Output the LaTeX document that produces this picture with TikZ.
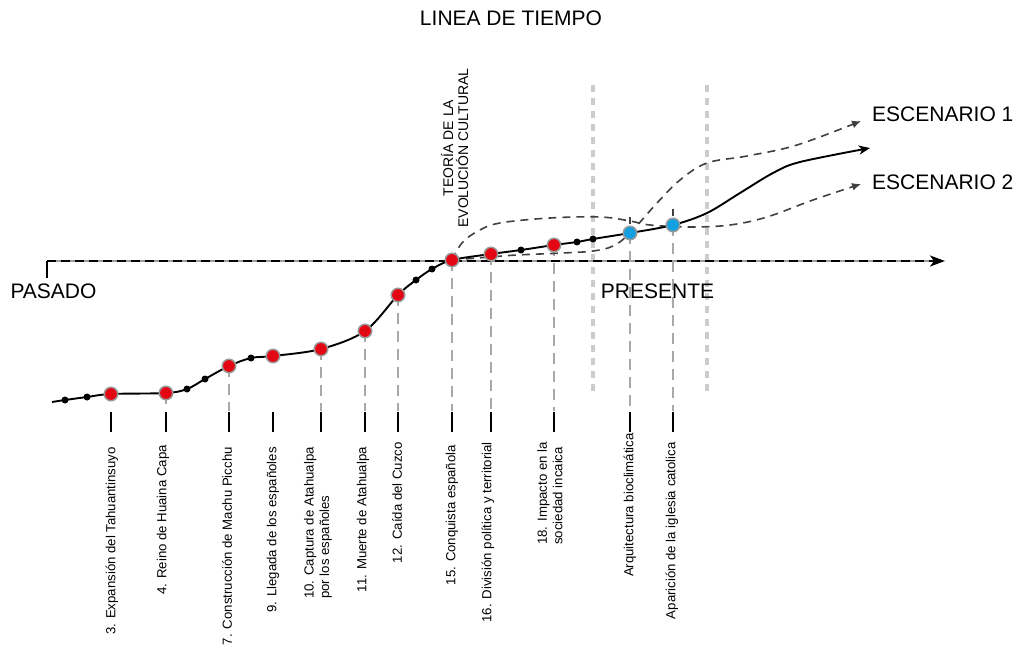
\documentclass[tikz,border=0pt]{standalone}
\usepackage{fontspec}
\setmainfont{Liberation Sans}
\usetikzlibrary{arrows.meta}
\definecolor{dotred}{HTML}{E30613}
\definecolor{dotblue}{HTML}{149FE0}
\definecolor{rimgray}{HTML}{9A9A9A}
\definecolor{darkdash}{HTML}{404040}
\definecolor{vgray}{HTML}{A8A8A8}
\definecolor{pgray}{HTML}{CCCCCC}
\definecolor{axgray}{HTML}{9C9C9C}
\begin{document}
\begin{tikzpicture}[x=1pt,y=-1pt,
  reddot/.style={circle,fill=dotred,draw=rimgray,line width=1.5pt,minimum size=13.5pt,inner sep=0pt},
  bluedot/.style={circle,fill=dotblue,draw=rimgray,line width=1.5pt,minimum size=13.5pt,inner sep=0pt},
  smalldot/.style={circle,fill=black,minimum size=7pt,inner sep=0pt},
  droplink/.style={vgray,line width=1.6pt,dash pattern=on 11pt off 7pt},
  toplink/.style={darkdash,line width=1.6pt,dash pattern=on 7pt off 5pt},
  tickline/.style={black,line width=1.9pt},
  evlabel/.style={rotate=90,anchor=east,font=\fontsize{13.2}{15.5}\selectfont,inner sep=0pt,align=left},
  bigtext/.style={font=\fontsize{21}{24}\selectfont,inner sep=0pt,anchor=base},
  scen/.style={darkdash,line width=1.6pt,dash pattern=on 8pt off 6pt,-{Latex[length=9pt,width=8pt]}},
  presline/.style={pgray,line width=3.2pt,dash pattern=on 7pt off 6pt},
]
\useasboundingbox (0,0) rectangle (1020,655);

% presente band lines
\coordinate (pl1a) at (593,85); \coordinate (pl1b) at (593,393);
\coordinate (pl2a) at (707,85); \coordinate (pl2b) at (707,393);
\draw[presline] (pl1a) -- (pl1b);
\draw[presline] (pl2a) -- (pl2b);

% curve coordinates
\coordinate (c0) at (52,402);
\coordinate (s1) at (65,400);
\coordinate (s2) at (87,397);
\coordinate (r3) at (111,394);
\coordinate (r4) at (166,393);
\coordinate (s3) at (187,389);
\coordinate (s4) at (205,379);
\coordinate (r7) at (229,366);
\coordinate (s5) at (251,358);
\coordinate (r9) at (273,356);
\coordinate (r10) at (321,349);
\coordinate (r11) at (365,331);
\coordinate (r12) at (398,295);
\coordinate (s6) at (416,280);
\coordinate (s7) at (432,269);
\coordinate (r15) at (452,260);
\coordinate (r16) at (491,254);
\coordinate (s8) at (521,250);
\coordinate (r18) at (554,245);
\coordinate (s9) at (577,242);
\coordinate (s10) at (593,239);
\coordinate (b1) at (630,233);
\coordinate (b2) at (673,225);
\coordinate (e1) at (707,213);
\coordinate (e2) at (740,193);
\coordinate (e3) at (773,173);
\coordinate (e4) at (800,162);
\coordinate (cend) at (870,148);

% axis
\coordinate (ax0) at (47,261);
\coordinate (ax1) at (945,261);
\coordinate (axg) at (932,261);
\coordinate (axt) at (47,278);
\draw[axgray,line width=1.8pt] (ax0) -- (axg);
\draw[black,line width=1.8pt,dash pattern=on 9pt off 5pt,-{Stealth[length=15pt,width=11pt,inset=4pt]}] (ax0) -- (ax1);
\draw[black,line width=2.2pt] (ax0) -- (axt);

% drop lines and ticks
\foreach \p/\x in {r4/166,r7/229,r10/321,r11/365,r12/398,r15/452,r16/491,r18/554,b1/630,b2/673}{
  \coordinate (\p d) at (\x,411);
  \draw[droplink] (\p) -- (\p d);
}
\foreach \x [count=\i] in {111,166,229,273,321,365,398,452,491,554,630,673}{
  \coordinate (ta\i) at (\x,412);
  \coordinate (tb\i) at (\x,432);
  \draw[tickline] (ta\i) -- (tb\i);
}
\coordinate (b1u) at (630,217);
\coordinate (b2u) at (673,209);
\draw[toplink] (b1u) -- (b1);
\draw[toplink] (b2u) -- (b2);

% scenario dashed curves
\draw[scen] plot[smooth,tension=0.6] coordinates {(r15) (462,243) (478,231) (500,223) (550,218) (600,217) (630,221) (650,225) (690,227) (730,225) (767,217) (813,200) (861,184)};
\draw[scen] plot[smooth,tension=0.6] coordinates {(r15) (490,257) (517,255) (563,253) (593,251) (613,246) (630,233) (657,203) (680,180) (707,163) (747,156) (797,145) (861,121)};

% main curve
\draw[black,line width=1.9pt,-{Stealth[length=11pt,width=9pt,inset=3pt]}] plot[smooth,tension=0.55] coordinates {(c0) (s1) (s2) (r3) (r4) (s3) (s4) (r7) (s5) (r9) (r10) (r11) (r12) (s6) (s7) (r15) (r16) (s8) (r18) (s9) (s10) (b1) (b2) (e1) (e2) (e3) (e4) (cend)};

% dots
\foreach \p in {s1,s2,s3,s4,s5,s6,s7,s8,s9,s10}{ \node[smalldot] (n\p) at (\p) {}; }
\foreach \p in {r3,r4,r7,r9,r10,r11,r12,r15,r16,r18}{ \node[reddot] (n\p) at (\p) {}; }
\foreach \p in {b1,b2}{ \node[bluedot] (n\p) at (\p) {}; }

% texts
\node[bigtext] (title) at (511,26) {LINEA DE TIEMPO};
\node[bigtext] (pasado) at (53.5,298) {PASADO};
\node[bigtext] (presente) at (657.5,298) {PRESENTE};
\node[bigtext,anchor=base west] (esc1) at (872,122) {ESCENARIO 1};
\node[bigtext,anchor=base west] (esc2) at (872,190) {ESCENARIO 2};
\node[rotate=90,font=\fontsize{14}{15}\selectfont,inner sep=0pt,align=center] (teoria) at (454.5,148) {TEORÍA DE LA\\EVOLUCIÓN CULTURAL};

\node[evlabel] (l3) at (112,447) {3. Expansión del Tahuantinsuyo};
\node[evlabel] (l4) at (163,445) {4. Reino de Huaina Capa};
\node[evlabel] (l7) at (227,447) {7. Construcción de Machu Picchu};
\node[evlabel] (l9) at (273,447) {9. Llegada de los españoles};
\node[evlabel] (l10) at (318,447) {10. Captura de Atahualpa\\por los españoles};
\node[evlabel] (l11) at (363,447) {11. Muerte de Atahualpa};
\node[evlabel] (l12) at (397,442) {12. Caída del Cuzco};
\node[evlabel] (l15) at (452,445) {15. Conquista española};
\node[evlabel] (l16) at (488,442) {16. División política y territorial};
\node[evlabel] (l18) at (550,442) {18. Impacto en la\\sociedad incaica};
\node[evlabel] (la) at (630,433) {Arquitectura bioclimática};
\node[evlabel] (lb) at (672,442) {Aparición de la iglesia catolica};
\end{tikzpicture}
\end{document}
